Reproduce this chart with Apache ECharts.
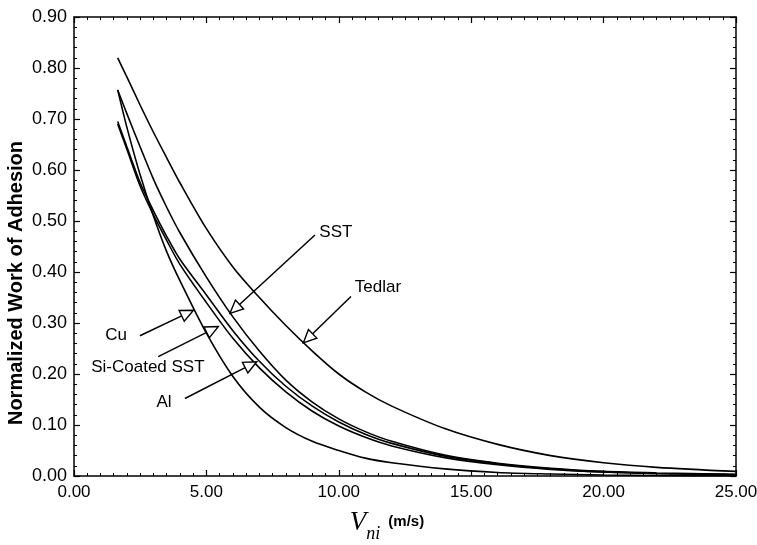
<!DOCTYPE html>
<html>
<head>
<meta charset="utf-8">
<script src="https://cdn.jsdelivr.net/npm/echarts@6/dist/echarts.min.js"></script>
<style>
  html, body { margin: 0; padding: 0; background: #fff; }
  #chart { width: 757px; height: 545px; }
</style>
</head>
<body>
<div id="chart"></div>
<script>
// Impact speed V_ni (m/s) at which each curve is sampled
const speed = [1.65, 2, 2.5, 3, 3.5, 4, 5, 6, 7, 8, 9, 10, 11, 12, 14, 16, 18, 20, 22, 25];

// Normalized work of adhesion for each surface material
const tedlar = [0.82, 0.782, 0.727, 0.674, 0.624, 0.575, 0.485, 0.41, 0.35, 0.295, 0.245, 0.2, 0.165, 0.137, 0.093, 0.062, 0.04, 0.026, 0.017, 0.009];
const sst    = [0.757, 0.71, 0.645, 0.582, 0.527, 0.477, 0.39, 0.312, 0.245, 0.188, 0.145, 0.112, 0.087, 0.068, 0.041, 0.025, 0.015, 0.009, 0.006, 0.003];
const al     = [0.695, 0.645, 0.575, 0.52, 0.47, 0.425, 0.355, 0.285, 0.225, 0.176, 0.137, 0.106, 0.082, 0.064, 0.039, 0.024, 0.014, 0.008, 0.005, 0.003];
const siCoatedSst = [0.69, 0.64, 0.568, 0.512, 0.462, 0.415, 0.34, 0.27, 0.212, 0.165, 0.127, 0.098, 0.076, 0.059, 0.036, 0.022, 0.013, 0.008, 0.005, 0.003];
const cu     = [0.757, 0.683, 0.59, 0.51, 0.44, 0.383, 0.28, 0.195, 0.135, 0.095, 0.068, 0.05, 0.035, 0.026, 0.014, 0.007, 0.004, 0.002, 0.001, 0.0005];

// Callout labels with their text anchor, arrow tail and arrow tip (data units)
const noteLabels = ['SST', 'Tedlar', 'Cu', 'Si-Coated SST', 'Al'];
const noteText = [[9.89, 0.478], [11.48, 0.369], [1.59, 0.275], [2.79, 0.214], [3.40, 0.144]];
const noteTail = [[9.10, 0.4725], [10.46, 0.352], [2.49, 0.275], [3.18, 0.234], [4.19, 0.152]];
const noteTip  = [[5.89, 0.319], [8.66, 0.261], [4.51, 0.325], [5.45, 0.293], [6.90, 0.224]];

const SANS = '"Liberation Sans", Arial, Helvetica, sans-serif';
const SERIF = '"Liberation Serif", "DejaVu Serif", serif';

const pairs = ys => speed.map((x, i) => [x, ys[i]]);

function curve(name, ys) {
  return {
    name, type: 'line', data: pairs(ys),
    smooth: 0.3,
    showSymbol: false, symbol: 'none',
    lineStyle: { color: '#000', width: 1.6 },
    silent: true, z: 3
  };
}

const frameLine = { show: true, onZero: false, lineStyle: { color: '#000', width: 1.5 } };
const tick = { show: true, inside: true, length: 6, lineStyle: { color: '#000', width: 1.2 } };

function xAxisDef(position, showLabel) {
  return {
    type: 'value', position, min: 0, max: 25, interval: 5,
    axisLine: frameLine, axisTick: tick,
    minorTick: { show: true, splitNumber: 10, length: 3, lineStyle: { color: '#000', width: 1 } },
    splitLine: { show: false }, minorSplitLine: { show: false },
    axisLabel: {
      show: showLabel, color: '#000', fontFamily: SANS, fontSize: 17, margin: 8,
      formatter: v => v.toFixed(2)
    }
  };
}

function yAxisDef(position, showLabel) {
  return {
    type: 'value', position, min: 0, max: 0.9, interval: 0.1,
    axisLine: frameLine, axisTick: tick,
    minorTick: { show: true, splitNumber: 5, length: 3, lineStyle: { color: '#000', width: 1 } },
    splitLine: { show: false }, minorSplitLine: { show: false },
    axisLabel: {
      show: showLabel, color: '#000', fontFamily: SANS, fontSize: 18, margin: 7,
      formatter: v => v.toFixed(2)
    }
  };
}

const xBottom = xAxisDef('bottom', true);
xBottom.name = '{v|V}{s|ni}{u|(m/s)}';
xBottom.nameLocation = 'middle';
xBottom.nameGap = 33;
xBottom.nameTextStyle = {
  color: '#000',
  padding: [0, 36, 0, 0],
  rich: {
    v: { fontFamily: SERIF, fontStyle: 'italic', fontSize: 27, color: '#000',
         lineHeight: 34, verticalAlign: 'top' },
    s: { fontFamily: SERIF, fontStyle: 'italic', fontSize: 18, color: '#000',
         lineHeight: 34, verticalAlign: 'bottom' },
    u: { fontFamily: SANS, fontWeight: 'bold', fontSize: 15, color: '#000',
         lineHeight: 34, verticalAlign: 'middle', padding: [0, 0, 8, 8] }
  }
};

const yLeft = yAxisDef('left', true);
yLeft.name = 'Normalized Work of Adhesion';
yLeft.nameLocation = 'middle';
yLeft.nameRotate = 90;
yLeft.nameGap = 48;
yLeft.nameMoveOverlap = false;
yLeft.nameTextStyle = {
  color: '#000', fontFamily: SANS, fontWeight: 'bold', fontSize: 20,
  padding: [0, 73, 0, 0]
};

// Callout arrows: a shaft and an open triangular head, with the label text
function renderNote(params, api) {
  const i = params.dataIndex;
  const text = api.coord([api.value(0), api.value(1)]);
  const tail = api.coord([api.value(2), api.value(3)]);
  const tip = api.coord([api.value(4), api.value(5)]);
  const dx = tip[0] - tail[0], dy = tip[1] - tail[1];
  const len = Math.sqrt(dx * dx + dy * dy);
  const ux = dx / len, uy = dy / len;
  const headLen = 13, headHalf = 6;
  const base = [tip[0] - ux * headLen, tip[1] - uy * headLen];
  const p1 = [base[0] - uy * headHalf, base[1] + ux * headHalf];
  const p2 = [base[0] + uy * headHalf, base[1] - ux * headHalf];
  return {
    type: 'group',
    children: [
      { type: 'line', shape: { x1: tail[0], y1: tail[1], x2: base[0], y2: base[1] },
        style: { stroke: '#000', lineWidth: 1.5 } },
      { type: 'polygon', shape: { points: [tip, p1, p2] },
        style: { fill: '#fff', stroke: '#000', lineWidth: 1.4 } },
      { type: 'text', x: text[0], y: text[1],
        style: { text: noteLabels[i], fill: '#000', font: '17px ' + SANS,
                 align: 'center', verticalAlign: 'middle' } }
    ]
  };
}

const noteData = noteLabels.map((_, i) => [
  noteText[i][0], noteText[i][1], noteTail[i][0], noteTail[i][1], noteTip[i][0], noteTip[i][1]
]);

const chart = echarts.init(document.getElementById('chart'), null, { renderer: 'canvas' });
chart.setOption({
  animation: false,
  backgroundColor: '#fff',
  grid: { left: 74, right: 21, top: 17, bottom: 69, containLabel: false, outerBoundsMode: 'none' },
  xAxis: [xBottom, xAxisDef('top', false)],
  yAxis: [yLeft, yAxisDef('right', false)],
  series: [
    curve('Tedlar', tedlar),
    curve('SST', sst),
    curve('Al', al),
    curve('Si-Coated SST', siCoatedSst),
    curve('Cu', cu),
    {
      type: 'custom', name: 'callouts', data: noteData,
      encode: { x: [0, 2, 4], y: [1, 3, 5] },
      renderItem: renderNote, silent: true, z: 5
    }
  ]
});
</script>
</body>
</html>
